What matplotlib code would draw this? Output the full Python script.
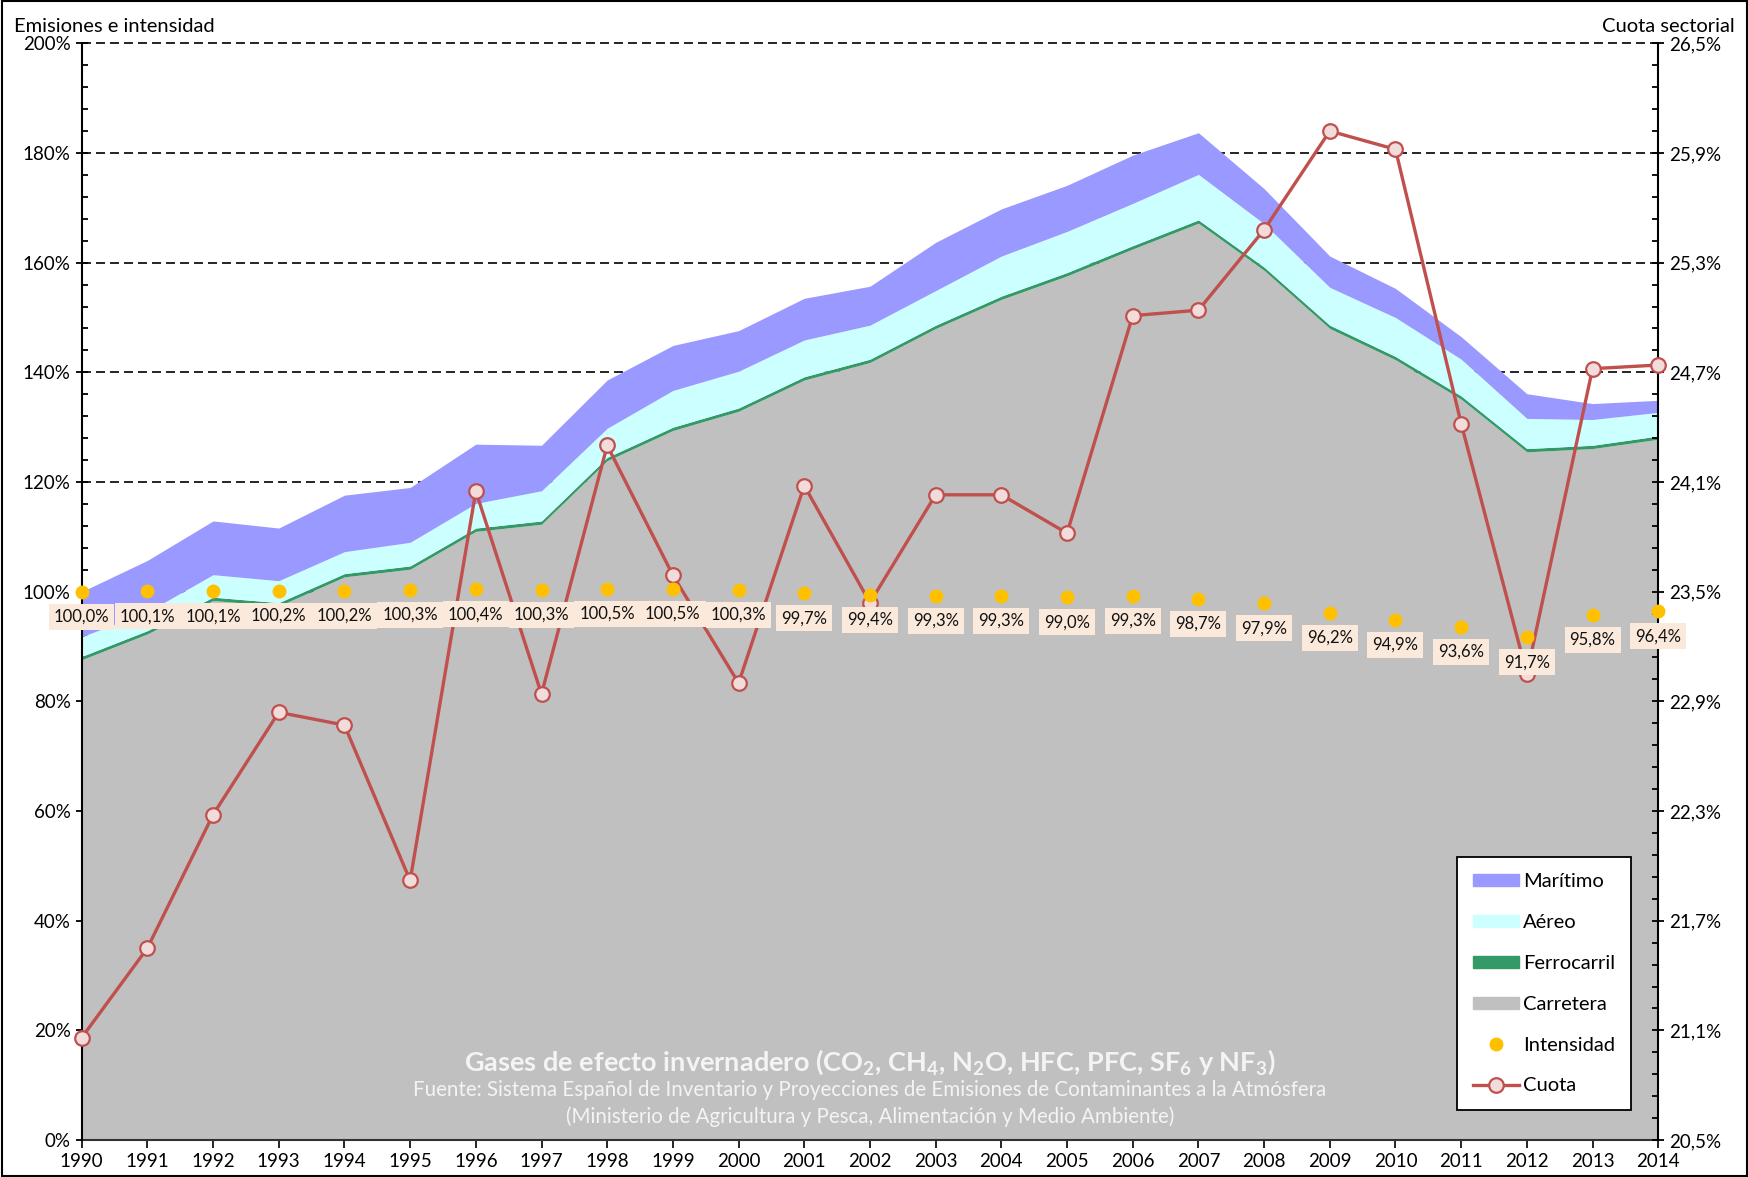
import matplotlib
matplotlib.use("Agg")
import matplotlib.pyplot as plt
import numpy as np
from matplotlib.patches import Patch, Rectangle
from matplotlib.lines import Line2D
from matplotlib.ticker import MultipleLocator, FuncFormatter

plt.rcParams['font.family'] = ['Lato', 'DejaVu Sans']
plt.rcParams['mathtext.fontset'] = 'custom'
plt.rcParams['mathtext.rm'] = 'Lato'
plt.rcParams['mathtext.bf'] = 'Lato:bold'

years = list(range(1990, 2015))

carretera = [87.6, 92.3, 98.4, 97.4, 102.7, 104.1, 111.0, 112.3, 123.9, 129.4, 132.9, 138.6, 141.8,
             148.0, 153.3, 157.6, 162.5, 167.2, 158.6, 148.0, 142.3, 135.1, 125.5, 126.1, 127.8]
ferrocarril = [0.6, 0.6, 0.6, 0.6, 0.6, 0.6, 0.6, 0.6, 0.6, 0.6, 0.6, 0.6, 0.6,
               0.6, 0.6, 0.6, 0.6, 0.6, 0.6, 0.6, 0.6, 0.6, 0.6, 0.6, 0.6]
aereo = [3.6, 3.4, 4.1, 4.0, 4.0, 4.3, 4.5, 5.5, 5.3, 6.7, 6.7, 6.7, 6.2,
         6.3, 7.3, 7.5, 7.7, 8.3, 7.9, 6.9, 7.1, 6.7, 5.5, 4.7, 4.3]
maritimo = [8.2, 9.4, 9.8, 9.6, 10.3, 10.0, 10.8, 8.3, 8.8, 8.2, 7.4, 7.6, 7.1,
            8.8, 8.6, 8.4, 8.8, 7.6, 6.4, 5.7, 5.3, 4.1, 4.5, 2.9, 2.2]
intensidad = [100.0, 100.1, 100.1, 100.2, 100.2, 100.3, 100.4, 100.3, 100.5, 100.5, 100.3, 99.7, 99.4,
              99.3, 99.3, 99.0, 99.3, 98.7, 97.9, 96.2, 94.9, 93.6, 91.7, 95.8, 96.4]
cuota = [21.06, 21.55, 22.28, 22.84, 22.77, 21.92, 24.05, 22.94, 24.30, 23.59, 23.00, 24.08, 23.44,
         24.03, 24.03, 23.82, 25.01, 25.04, 25.48, 26.02, 25.92, 24.42, 23.05, 24.72, 24.74]
cuota_ticks = [20.5, 21.1, 21.7, 22.3, 22.9, 23.5, 24.1, 24.7, 25.3, 25.9, 26.5]

c_mar = '#9999FF'
c_aer = '#CCFFFF'
c_fer = '#339966'
c_car = '#C0C0C0'
c_int = '#FFC000'
c_cuo = '#C0504D'
c_cuo_face = '#F2DCDB'

fig = plt.figure(figsize=(17.49, 11.77), dpi=100)
ax = fig.add_axes([0.0467, 0.0314, 0.9014, 0.9318])

x = np.array(years)
b0 = np.zeros(len(years))
b1 = b0 + np.array(carretera)
b2 = b1 + np.array(ferrocarril)
b3 = b2 + np.array(aereo)
b4 = b3 + np.array(maritimo)
ax.fill_between(x, b0, b1, color=c_car, lw=0, zorder=2)
ax.fill_between(x, b1, b2, color=c_fer, lw=0, zorder=2)
ax.fill_between(x, b2, b3, color=c_aer, lw=0, zorder=2)
ax.fill_between(x, b3, b4, color=c_mar, lw=0, zorder=2)

ax.set_xlim(1990, 2014)
ax.set_ylim(0, 200)
ax.yaxis.set_major_locator(MultipleLocator(20))
ax.yaxis.set_minor_locator(MultipleLocator(4))
ax.yaxis.set_major_formatter(FuncFormatter(lambda v, p: f"{v:.0f}%"))
ax.set_xticks(years)
ax.set_xticklabels([str(y) for y in years])
ax.set_axisbelow(True)
ax.grid(axis='y', which='major', color='black', lw=1.2, linestyle=(0, (5.4, 3.0)), zorder=0)
for gl in ax.get_ygridlines():
    gl.set_clip_on(False)
for s in ['top', 'right']:
    ax.spines[s].set_visible(False)
ax.spines['left'].set_linewidth(1.5)
ax.spines['bottom'].set_linewidth(1.5)
ax.spines['bottom'].set_color('#333333')
ax.spines['left'].set_zorder(5)
ax.tick_params(axis='y', which='major', direction='inout', length=8, width=1.3, labelsize=13.5, pad=4)
ax.tick_params(axis='y', which='minor', direction='in', length=4, width=1.3)
ax.tick_params(axis='x', which='major', direction='out', length=6, width=1.2, labelsize=13.5, pad=3)

# right axis: cuota
ax2 = ax.twinx()
ax2.set_ylim(20.5, 26.5)
ax2.set_yticks(cuota_ticks)
ax2.set_yticks(np.linspace(20.5, 26.5, 51), minor=True)
ax2.set_yticklabels([f"{v:.1f}%".replace('.', ',') for v in cuota_ticks])
for s in ['top', 'left', 'bottom']:
    ax2.spines[s].set_visible(False)
ax2.spines['right'].set_linewidth(1.5)
ax2.tick_params(axis='y', which='major', direction='inout', length=8, width=1.3, labelsize=13.5, pad=4)
ax2.tick_params(axis='y', which='minor', direction='in', length=4, width=1.3)
ax2.plot(x, cuota, color=c_cuo, lw=2.4, marker='o', markersize=10.5,
         markerfacecolor=c_cuo_face, markeredgecolor=c_cuo, markeredgewidth=1.6, zorder=3, clip_on=False)

# intensity layer on top
ax3 = ax.twinx()
ax3.set_ylim(0, 200)
ax3.axis('off')
ax3.plot(x, intensidad, linestyle='none', marker='o', markersize=9, color=c_int, zorder=3, clip_on=False)
for xi, v in zip(years, intensidad):
    ax3.annotate(f"{v:.1f}%".replace('.', ','), (xi, v), xytext=(0, -18), textcoords='offset points',
                 ha='center', va='center', fontsize=12, color='#111111', zorder=4,
                 bbox=dict(boxstyle='square,pad=0.3', fc='#FBEADB', ec='none'))

# texts inside
ax3.text(0.5, 0.0715, r"Gases de efecto invernadero (CO$_\mathbf{2}$, CH$_\mathbf{4}$, N$_\mathbf{2}$O, HFC, PFC, SF$_\mathbf{6}$ y NF$_\mathbf{3}$)",
         transform=ax3.transAxes, ha='center', va='center', fontsize=19.5, fontweight='bold', color='#F4F4F4')
ax3.text(0.5, 0.046, "Fuente: Sistema Español de Inventario y Proyecciones de Emisiones de Contaminantes a la Atmósfera",
         transform=ax3.transAxes, ha='center', va='center', fontsize=14.8, color='#F4F4F4')
ax3.text(0.5, 0.0215, "(Ministerio de Agricultura y Pesca, Alimentación y Medio Ambiente)",
         transform=ax3.transAxes, ha='center', va='center', fontsize=14.8, color='#F4F4F4')

fig.text(0.008, 0.985, "Emisiones e intensidad", ha='left', va='top', fontsize=14.5)
fig.text(0.992, 0.985, "Cuota sectorial", ha='right', va='top', fontsize=14.5)

handles = [Patch(color=c_mar, label='Marítimo'),
           Patch(color=c_aer, label='Aéreo'),
           Patch(color=c_fer, label='Ferrocarril'),
           Patch(color=c_car, label='Carretera'),
           Line2D([], [], linestyle='none', marker='o', markersize=9, color=c_int, label='Intensidad'),
           Line2D([], [], color=c_cuo, lw=2.4, marker='o', markersize=10.5, markerfacecolor=c_cuo_face,
                  markeredgecolor=c_cuo, markeredgewidth=1.6, label='Cuota')]
leg = ax3.legend(handles=handles, loc='lower right', bbox_to_anchor=(0.983, 0.027), fontsize=14.5,
                 frameon=True, fancybox=False, framealpha=1, edgecolor='black',
                 labelspacing=1.18, handlelength=2.3, handleheight=0.55, handletextpad=0.2,
                 borderpad=0.8, borderaxespad=0)
leg.get_frame().set_linewidth(1.3)

fig.patches.append(Rectangle((0.001, 0.001), 0.998, 0.998, transform=fig.transFigure,
                             fill=False, ec='black', lw=1.5))

fig.savefig("out.png", dpi=100)
